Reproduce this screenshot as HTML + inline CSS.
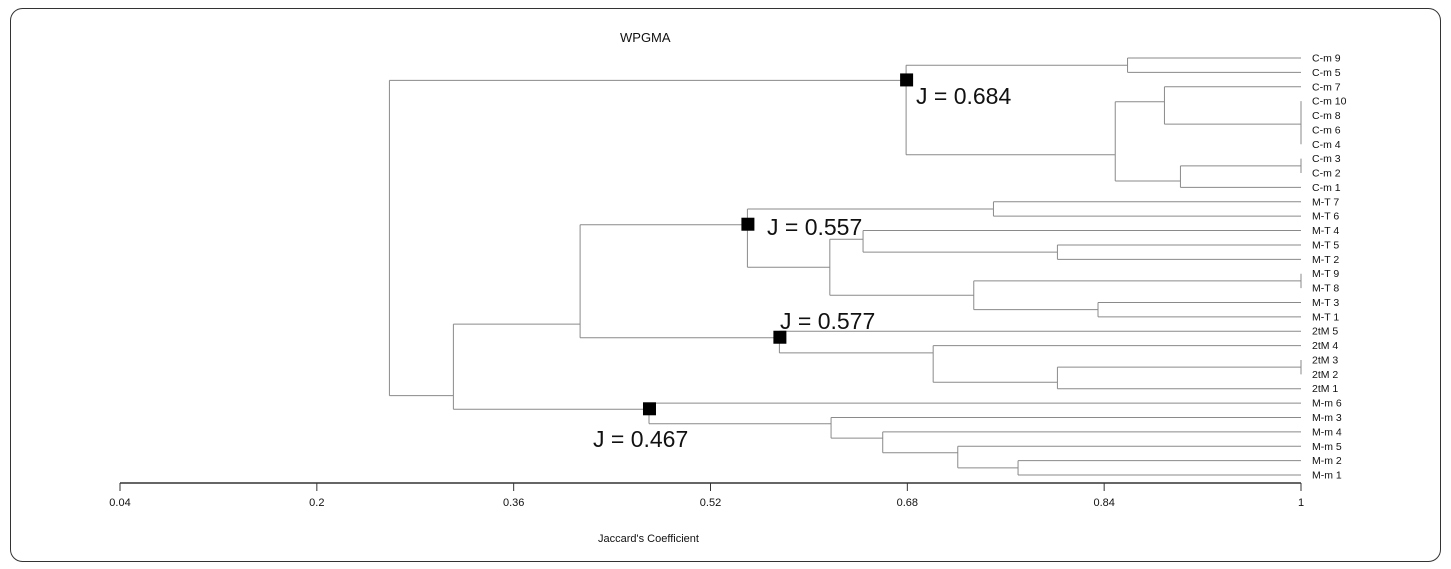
<!DOCTYPE html>
<html><head><meta charset="utf-8"><style>
html,body{margin:0;padding:0;background:#fff;}
svg{display:block;font-family:"Liberation Sans",Arial,sans-serif;}
</style></head><body>
<svg id="chart" width="1451" height="569" viewBox="0 0 1451 569">
<rect x="10.5" y="8.5" width="1430" height="553" rx="12" fill="#fff" stroke="#333" stroke-width="1"/>
<text x="620" y="42" font-size="13" fill="#111">WPGMA</text>
<text x="598" y="542" font-size="11" fill="#111">Jaccard's Coefficient</text>
<g id="tree"></g>
<g id="axis"></g>
<g id="marks"></g>
</svg>
<script>
const leaves = ["C-m 9","C-m 5","C-m 7","C-m 10","C-m 8","C-m 6","C-m 4","C-m 3","C-m 2","C-m 1",
"M-T 7","M-T 6","M-T 4","M-T 5","M-T 2","M-T 9","M-T 8","M-T 3","M-T 1",
"2tM  5","2tM  4","2tM  3","2tM  2","2tM  1",
"M-m 6","M-m 3","M-m 4","M-m 5","M-m 2","M-m 1"];
// merges: childA, childB, similarity. leaf i = "L"+i, merge j = "N"+j
const mergeA = ["L0","L3","N1","N2","L2","L7","N5","N4","N0","L10","L13","L12","L15","L17","N12","N11","N9","L21","N17","L20","L19","N16","L28","L27","L26","L25","L24","N21","N8"];
const mergeB = ["L1","L4","L5","L6","N3","L8","L9","N6","N7","L11","L14","N10","L16","L18","N13","N14","N15","L22","L23","N18","N19","N20","L29","N22","N23","N24","N25","N26","N27"];
const mergeV = [0.859,1,1,1,0.889,1,0.902,0.849,0.679,0.750,0.802,0.644,1,0.835,0.734,0.617,0.550,1,0.802,0.701,0.576,0.414,0.770,0.721,0.660,0.618,0.470,0.311,0.259];
const ticks = [0.04,0.2,0.36,0.52,0.68,0.84,1];
const annValues = [0.684,0.557,0.577,0.467];
const annNodes = ["N8","N16","N20","N26"];
</script>
<script>
// layout: where each node's stem attaches between its two children (0 = first child, 1 = second)
const anchorFrac=[0.5,0.5,0.5,0.2,0.4,0.5,0.7,0.67,0.17,0.5,0.5,0.4,0.5,0.5,0.5,0.5,0.27,0.5,0.7,0.2,0.3,0.88,0.5,0.3,0.3,0.3,0.3,0.84,0.5];
const annPos=[[916,104],[767,235],[780,329],[593,447]];
const NS="http://www.w3.org/2000/svg";
const x0=120,x1=1301,vmin=0.04,vmax=1;
function xs(v){return x0+(v-vmin)/(vmax-vmin)*(x1-x0);}
function ys(i){return 58+i*14.38;}
const tree=document.getElementById('tree'),axis=document.getElementById('axis'),marks=document.getElementById('marks');
function line(g,xa,ya,xb,yb,c,w,name){const l=document.createElementNS(NS,'line');
l.setAttribute('x1',xa);l.setAttribute('y1',ya);l.setAttribute('x2',xb);l.setAttribute('y2',yb);
l.setAttribute('stroke',c);l.setAttribute('stroke-width',w);


g.appendChild(l);return l;}
const pos={};
leaves.forEach((n,i)=>{pos["L"+i]={x:xs(1),y:ys(i)};
 const t=document.createElementNS(NS,'text');t.setAttribute('x',1312);t.setAttribute('y',ys(i)+3.5);
 t.setAttribute('font-size','10.5');t.setAttribute('fill','#111');t.textContent=n;
 
 
 tree.appendChild(t);});
mergeA.forEach((a,j)=>{const pa=pos[a],pb=pos[mergeB[j]],x=xs(mergeV[j]);
 line(tree,x,pa.y,pa.x,pa.y,'#8a8a8a',1,'branch');
 line(tree,x,pb.y,pb.x,pb.y,'#8a8a8a',1,'branch');
 line(tree,x,pa.y,x,pb.y,'#8a8a8a',1,'branch');
 pos["N"+j]={x:x,y:pa.y+(pb.y-pa.y)*anchorFrac[j]};});
line(axis,x0,483,x1,483,'#333',1.5,'axis-line');
ticks.forEach(t=>{const x=xs(t);line(axis,x,483,x,491,'#333',1,'axis-tick');
 const tx=document.createElementNS(NS,'text');tx.setAttribute('x',x);tx.setAttribute('y',506);
 tx.setAttribute('font-size','11');tx.setAttribute('text-anchor','middle');tx.setAttribute('fill','#111');
 tx.textContent=String(t);
 
 
 axis.appendChild(tx);});
annNodes.forEach((n,k)=>{const p=pos[n];const r=document.createElementNS(NS,'rect');
 r.setAttribute('x',p.x-6);r.setAttribute('y',p.y-7);r.setAttribute('width',13);r.setAttribute('height',13);r.setAttribute('fill','#000');
 
 
 marks.appendChild(r);
 const t=document.createElementNS(NS,'text');t.setAttribute('x',annPos[k][0]);t.setAttribute('y',annPos[k][1]);
 t.setAttribute('font-size','23');t.setAttribute('fill','#111');t.textContent='J = '+annValues[k].toFixed(3);
 
 
 marks.appendChild(t);});
</script>
</body></html>
